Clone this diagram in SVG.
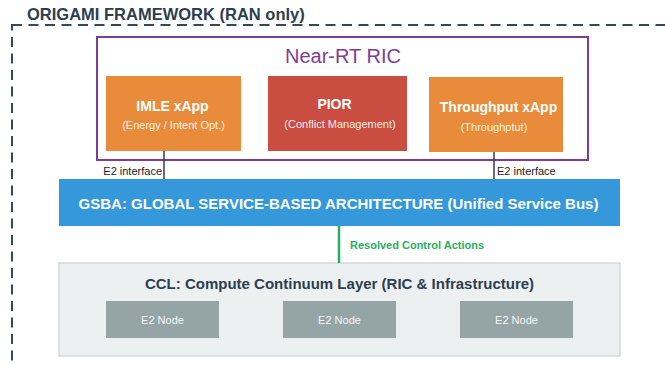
<svg xmlns="http://www.w3.org/2000/svg" width="665" height="365" viewBox="0 0 665 365">
  <style>
    text { font-family: "Liberation Sans", Arial, sans-serif; }
    .frame { fill: none; stroke: #34495e; stroke-width: 2; stroke-dasharray: 10 6.5; }
    .frame-title { font-size: 16.5px; font-weight: bold; fill: #2c3e50; }
    .ric { fill: #ffffff; stroke: #7d3c98; stroke-width: 2; }
    .ric-title { font-size: 20px; fill: #7d3c98; text-anchor: middle; }
    .xapp { fill: #e88b3a; }
    .pior { fill: #c94d40; }
    .box-title { font-size: 14px; font-weight: bold; fill: #ffffff; text-anchor: middle; }
    .box-sub { font-size: 11px; fill: #ffffff; fill-opacity: 0.92; text-anchor: middle; }
    .bus { fill: #3498db; }
    .bus-text { font-size: 15px; font-weight: bold; fill: #ffffff; text-anchor: middle; }
    .ccl { fill: #ecf0f1; stroke: #c3c9cc; stroke-width: 1; }
    .ccl-title { font-size: 15px; font-weight: bold; fill: #2c3e50; text-anchor: middle; }
    .node { fill: #95a5a6; }
    .node-text { font-size: 11px; fill: #f4f6f6; text-anchor: middle; }
    .e2 { stroke: #2c3e50; stroke-width: 1.5; fill: none; }
    .e2-label { font-size: 11px; fill: #1a1a1a; }
    .ctrl { stroke: #27ae60; stroke-width: 2.5; fill: none; }
    .ctrl-label { font-size: 11px; font-weight: bold; fill: #27ae60; }
  </style>

  <!-- outer framework boundary (runs past the right and bottom edges) -->
  <g id="framework">
    <rect class="frame" x="12" y="25" width="700" height="400"/>
    <text class="frame-title" x="27" y="20">ORIGAMI FRAMEWORK (RAN only)</text>
  </g>

  <!-- Near-RT RIC container -->
  <g id="near-rt-ric">
    <rect class="ric" x="97" y="37" width="491" height="123"/>
    <text class="ric-title" x="343" y="63">Near-RT RIC</text>
  </g>

  <g id="imle-xapp">
    <rect class="xapp" x="106" y="76" width="135" height="75"/>
    <text class="box-title" x="172.5" y="111">IMLE xApp</text>
    <text class="box-sub" x="173.5" y="129">(Energy / Intent Opt.)</text>
  </g>

  <g id="pior">
    <rect class="pior" x="268" y="76" width="139" height="75"/>
    <text class="box-title" x="334.5" y="109">PIOR</text>
    <text class="box-sub" x="340" y="128">(Conflict Management)</text>
  </g>

  <g id="throughput-xapp">
    <rect class="xapp" x="429" y="77" width="134" height="75"/>
    <text class="box-title" x="498.5" y="112">Throughput xApp</text>
    <text class="box-sub" x="494" y="131">(Throughptut)</text>
  </g>

  <!-- service bus -->
  <g id="gsba">
    <rect class="bus" x="59" y="179" width="561" height="47"/>
    <text class="bus-text" x="338.5" y="209">GSBA: GLOBAL SERVICE-BASED ARCHITECTURE (Unified Service Bus)</text>
  </g>

  <!-- compute continuum layer -->
  <g id="ccl">
    <rect class="ccl" x="59" y="263" width="561" height="93"/>
    <text class="ccl-title" x="339.5" y="289">CCL: Compute Continuum Layer (RIC &amp; Infrastructure)</text>
  </g>

  <g id="e2-node-1">
    <rect class="node" x="106" y="301" width="113" height="37"/>
    <text class="node-text" x="162.5" y="324">E2 Node</text>
  </g>
  <g id="e2-node-2">
    <rect class="node" x="283" y="301" width="113" height="37"/>
    <text class="node-text" x="339.5" y="324">E2 Node</text>
  </g>
  <g id="e2-node-3">
    <rect class="node" x="460" y="301" width="113" height="37"/>
    <text class="node-text" x="516.5" y="324">E2 Node</text>
  </g>

  <!-- connectors -->
  <g id="connectors">
    <line class="e2" x1="164" y1="151" x2="164" y2="179"/>
    <text class="e2-label" x="162" y="175" text-anchor="end">E2 interface</text>
    <line class="e2" x1="494" y1="152" x2="494" y2="179"/>
    <text class="e2-label" x="497" y="175">E2 interface</text>
    <line class="ctrl" x1="339" y1="226" x2="339" y2="263"/>
    <text class="ctrl-label" x="350" y="249">Resolved Control Actions</text>
  </g>
</svg>
